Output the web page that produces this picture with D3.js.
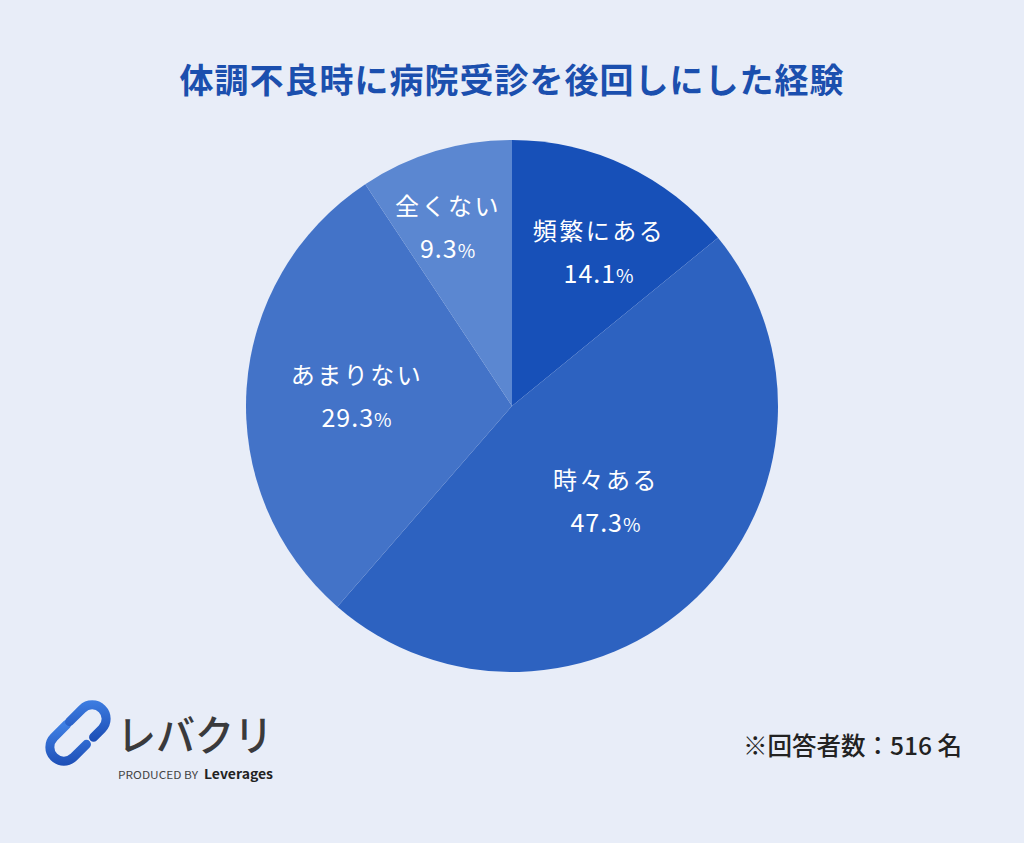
<!DOCTYPE html>
<html>
<head>
<meta charset="utf-8">
<script src="https://cdn.jsdelivr.net/npm/d3@7"></script>
<style>
  html, body { margin: 0; padding: 0; background: #e8edf8; }
  svg { display: block; }
  text { font-family: "Noto Sans CJK JP", "Noto Sans", sans-serif; }
</style>
</head>
<body>
<div id="chart"></div>
<script>
// data
var categories = ['頻繁にある', '時々ある', 'あまりない', '全くない']
var values = [14.1, 47.3, 29.3, 9.3]
var colors = ['#1750b8', '#2d62c0', '#4373c8', '#5b87d1']
var title = '体調不良時に病院受診を後回しにした経験'
var note = '※回答者数：516 名'

// label placement: share of the radius, and turn (degrees) off the slice middle
var labelRadius = [0.665, 0.502, 0.584, 0.715]
var labelTurn = [4.1, -0.6, 0, -2.9]

var width = 1024, height = 843
var cx = 512, cy = 406, r = 266

var svg = d3.select('#chart')
  .append('svg')
  .attr('width', width)
  .attr('height', height)

svg.append('rect')
  .attr('width', width)
  .attr('height', height)
  .attr('fill', '#e8edf8')

// title
svg.append('text')
  .attr('x', cx)
  .attr('y', 93)
  .attr('text-anchor', 'middle')
  .style('font-size', '34px')
  .style('font-weight', 700)
  .style('letter-spacing', '1px')
  .attr('fill', '#1b4fae')
  .text(title)

// pie
var pie = d3.pie().sort(null).value(function(d) { return d })
var arcs = pie(values)
var arc = d3.arc().innerRadius(0).outerRadius(r)

var g = svg.append('g').attr('transform', 'translate(' + cx + ',' + cy + ')')

g.selectAll('path')
  .data(arcs)
  .enter()
  .append('path')
  .attr('d', arc)
  .attr('fill', function(d, i) { return colors[i] })

var labels = g.selectAll('g.lbl')
  .data(arcs)
  .enter()
  .append('g')
  .attr('class', 'lbl')
  .attr('transform', function(d, i) {
    var a = (d.startAngle + d.endAngle) / 2 + labelTurn[i] * Math.PI / 180
    var rr = r * labelRadius[i]
    return 'translate(' + (Math.sin(a) * rr) + ',' + (-Math.cos(a) * rr) + ')'
  })

labels.append('text')
  .attr('text-anchor', 'middle')
  .attr('y', -12)
  .style('font-size', '24px')
  .style('letter-spacing', '2.5px')
  .attr('fill', '#ffffff')
  .text(function(d, i) { return categories[i] })

var pct = labels.append('text')
  .attr('text-anchor', 'middle')
  .attr('y', 31)
  .attr('fill', '#ffffff')
  .style('letter-spacing', '1px')

pct.append('tspan')
  .style('font-size', '25px')
  .text(function(d) { return d.data.toFixed(1) })
pct.append('tspan')
  .style('font-size', '19px')
  .text('%')

// respondents note
svg.append('text')
  .attr('x', 962)
  .attr('y', 755)
  .attr('text-anchor', 'end')
  .style('font-size', '24.5px')
  .style('font-weight', 500)
  .attr('fill', '#222')
  .text(note)

// logo
var defs = svg.append('defs')
var grad = defs.append('linearGradient')
  .attr('id', 'lg')
  .attr('x1', '0').attr('y1', '1').attr('x2', '1').attr('y2', '0')
grad.append('stop').attr('offset', '0').attr('stop-color', '#1c4db5')
grad.append('stop').attr('offset', '1').attr('stop-color', '#3f7fe3')

var logo = svg.append('g').attr('transform', 'translate(78,733) rotate(-45)')
logo.append('path')
  .attr('d', 'M -2 -14 L -20 -14 A 14 14 0 0 0 -20 14 L -2 14')
  .attr('fill', 'none')
  .attr('stroke', 'url(#lg)')
  .attr('stroke-width', 9)
  .attr('stroke-linecap', 'round')
logo.append('path')
  .attr('d', 'M 2 -14 L 20 -14 A 14 14 0 0 1 20 14 L 8 14')
  .attr('fill', 'none')
  .attr('stroke', 'url(#lg)')
  .attr('stroke-width', 9)
  .attr('stroke-linecap', 'round')

svg.append('text')
  .attr('x', 117)
  .attr('y', 751)
  .attr('textLength', 156)
  .attr('lengthAdjust', 'spacingAndGlyphs')
  .style('font-size', '42px')
  .style('font-weight', 500)
  .attr('fill', '#3a3a3c')
  .text('レバクリ')

svg.append('text')
  .attr('x', 118)
  .attr('y', 779)
  .attr('textLength', 80)
  .attr('lengthAdjust', 'spacingAndGlyphs')
  .style('font-size', '11px')
  .attr('fill', '#444')
  .text('PRODUCED BY')

svg.append('text')
  .attr('x', 204)
  .attr('y', 779)
  .attr('textLength', 69)
  .attr('lengthAdjust', 'spacingAndGlyphs')
  .style('font-size', '13px')
  .style('font-weight', 700)
  .attr('fill', '#222')
  .text('Leverages')
</script>
</body>
</html>
